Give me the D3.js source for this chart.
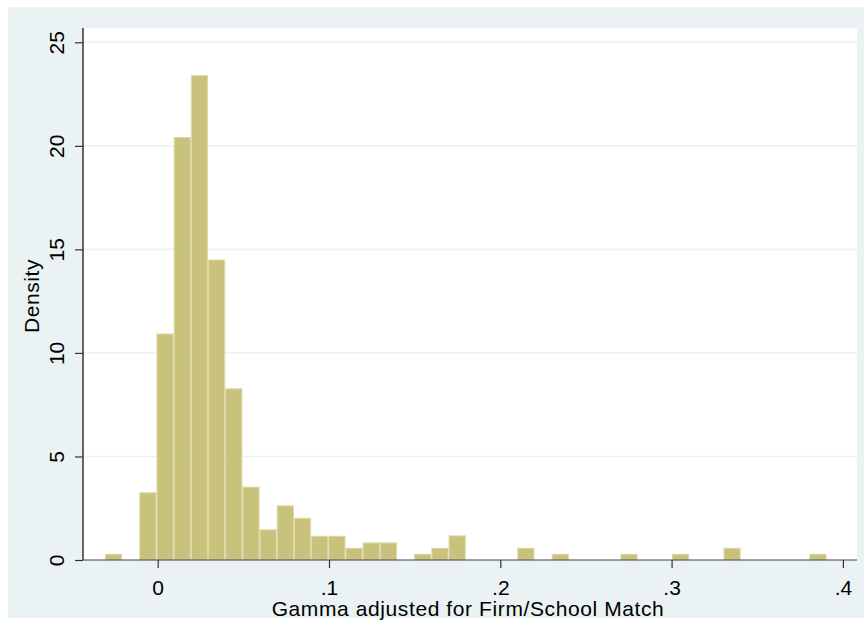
<!DOCTYPE html>
<html>
<head>
<meta charset="utf-8">
<script src="https://cdn.jsdelivr.net/npm/d3@7"></script>
<style>
  html, body { margin: 0; padding: 0; background: #ffffff; }
  svg { display: block; }
  text { font-family: "Liberation Sans", Arial, sans-serif; fill: #000; }
</style>
</head>
<body>
<svg id="chart" width="865" height="629"></svg>
<script>
// Histogram of gamma (adjusted for firm/school match): 42 equal-width bins
const binStart = -0.0308;
const binWidth = 0.01003;
const densities = [
  0.30, 0, 3.27, 10.94, 20.43, 23.41, 14.51, 8.29, 3.54, 1.48,
  2.64, 2.04, 1.17, 1.17, 0.59, 0.85, 0.85, 0, 0.30, 0.59,
  1.19, 0, 0, 0, 0.59, 0, 0.30, 0, 0, 0,
  0.30, 0, 0, 0.30, 0, 0, 0.59, 0, 0, 0,
  0, 0.30
];
const xTicks = [0, 0.1, 0.2, 0.3, 0.4];
const xTickLabels = ["0", ".1", ".2", ".3", ".4"];
const yTicks = [0, 5, 10, 15, 20, 25];
const xTitle = "Gamma adjusted for Firm/School Match";
const yTitle = "Density";

const svg = d3.select("#chart");
const plot = { left: 83, right: 857, top: 28, bottom: 560 };

// outer graph region
svg.append("rect").attr("x", 8).attr("y", 7).attr("width", 856).attr("height", 611)
  .attr("fill", "#eaf2f3");
// plot region
svg.append("rect").attr("x", plot.left).attr("y", plot.top)
  .attr("width", plot.right - plot.left).attr("height", plot.bottom - plot.top)
  .attr("fill", "#ffffff");

const x = d3.scaleLinear().domain([0, 0.1]).range([157.7, 329.0]);
const y = d3.scaleLinear().domain([0, 25]).range([plot.bottom, 42.3]);

// horizontal grid lines
svg.append("g").selectAll("line").data(yTicks.filter(d => d > 0)).join("line")
  .attr("x1", plot.left).attr("x2", plot.right)
  .attr("y1", d => y(d)).attr("y2", d => y(d))
  .attr("stroke", "#eaf2f3").attr("stroke-width", 1.6);

// bars
const bins = densities.map((d, i) => ({
  x0: binStart + i * binWidth,
  x1: binStart + (i + 1) * binWidth,
  d
})).filter(b => b.d > 0);

svg.append("g").selectAll("rect").data(bins).join("rect")
  .attr("x", b => x(b.x0) + 0.5)
  .attr("width", b => x(b.x1) - x(b.x0) - 1)
  .attr("y", b => y(b.d) + 0.5)
  .attr("height", b => y(0) - y(b.d) - 0.5)
  .attr("fill", "#c9c27c")
  .attr("stroke", "#ddd8a6")
  .attr("stroke-width", 1);

// y axis
const yAxis = d3.axisLeft(y).tickValues(yTicks).tickSize(8).tickPadding(12)
  .tickFormat(d3.format("d"));
const gy = svg.append("g").attr("transform", `translate(${plot.left},0)`).call(yAxis);
gy.select(".domain").attr("stroke", "#000").attr("stroke-width", 1.2)
  .attr("d", `M0,${plot.top}V${plot.bottom}`);
gy.selectAll(".tick line").attr("stroke", "#333").attr("stroke-width", 1.2);
gy.selectAll(".tick text")
  .attr("font-size", 21)
  .attr("font-family", "Liberation Sans, Arial, sans-serif")
  .attr("x", null).attr("dy", null)
  .attr("text-anchor", "middle")
  .attr("transform", "translate(-19,0) rotate(-90)")
  .attr("y", 0);

// x axis
const xAxis = d3.axisBottom(x).tickValues(xTicks).tickSize(8).tickPadding(10)
  .tickFormat((d, i) => xTickLabels[i]);
const gx = svg.append("g").attr("transform", `translate(0,${plot.bottom})`).call(xAxis);
gx.select(".domain").attr("stroke", "#444").attr("stroke-width", 1.2)
  .attr("d", `M${plot.left},0H${plot.right}`);
gx.selectAll(".tick line").attr("stroke", "#333").attr("stroke-width", 1.2);
gx.selectAll(".tick text")
  .attr("font-size", 21)
  .attr("font-family", "Liberation Sans, Arial, sans-serif")
  .attr("dy", null).attr("y", 34.5);

// axis titles
svg.append("text")
  .attr("x", (plot.left + plot.right) / 2 - 2).attr("y", 615.5)
  .attr("text-anchor", "middle").attr("font-size", 21)
  .attr("letter-spacing", 0.6)
  .text(xTitle);
svg.append("text")
  .attr("transform", `translate(39,${(plot.top + plot.bottom) / 2 + 2}) rotate(-90)`)
  .attr("text-anchor", "middle").attr("font-size", 21)
  .attr("letter-spacing", 0.6)
  .text(yTitle);
</script>
</body>
</html>
